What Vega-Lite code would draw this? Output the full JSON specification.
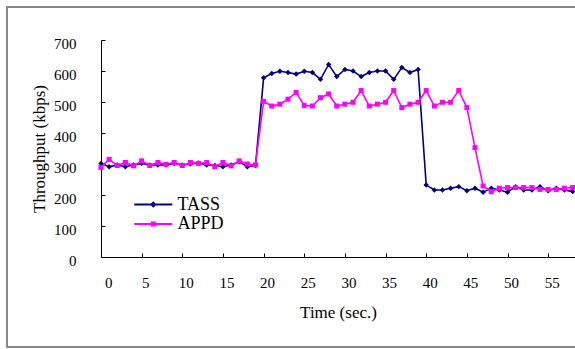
{
  "$schema": "https://vega.github.io/schema/vega-lite/v6.json",
  "width": 474,
  "height": 217,
  "autosize": {"type": "none"},
  "padding": {"left": 101, "top": 40, "right": 0, "bottom": 92},
  "background": "white",
  "config": {
    "view": {"stroke": null},
    "font": "Liberation Serif",
    "axis": {
      "labelFont": "Liberation Serif",
      "titleFont": "Liberation Serif",
      "labelColor": "black",
      "titleColor": "black",
      "domainColor": "black",
      "tickColor": "black",
      "grid": false,
      "labelFontSize": 15,
      "titleFontSize": 17,
      "titleFontWeight": "normal",
      "tickSize": -4,
      "labelOverlap": false
    },
    "legend": {
      "labelFont": "Liberation Serif",
      "labelFontSize": 18,
      "labelColor": "black"
    }
  },
  "layer": [
    {
      "data": {"values": [{}]},
      "mark": {"type": "rect", "fill": null, "stroke": "#888888", "strokeWidth": 2, "clip": false},
      "encoding": {
        "x": {"datum": -11.56, "type": "quantitative", "scale": {"domain": [0, 58.3]},
          "axis": {"values": [0, 5, 10, 15, 20, 25, 30, 35, 40, 45, 50, 55], "title": "Time (sec.)", "labelPadding": 22, "labelOffset": 3.5, "titleBaseline": "middle", "titleY": 55}},
        "x2": {"datum": 62},
        "y": {"datum": 806.5, "type": "quantitative", "scale": {"domain": [0, 700]},
          "axis": {"values": [0, 100, 200, 300, 400, 500, 600, 700], "title": "Throughput (kbps)", "labelPadding": 29, "labelOffset": 3, "titleBaseline": "middle", "titleX": -62, "titleY": 108.5}},
        "y2": {"datum": -290}
      }
    },
    {
      "data": {"name": "tp"},
      "transform": [{"fold": ["TASS", "APPD"], "as": ["series", "value"]}],
      "encoding": {
        "x": {"field": "t", "type": "quantitative", "scale": {"domain": [0, 58.3]},
          "axis": {"values": [0, 5, 10, 15, 20, 25, 30, 35, 40, 45, 50, 55], "title": "Time (sec.)", "labelPadding": 22, "labelOffset": 3.5, "titleBaseline": "middle", "titleY": 55}},
        "y": {"field": "value", "type": "quantitative", "scale": {"domain": [0, 700]},
          "axis": {"values": [0, 100, 200, 300, 400, 500, 600, 700], "title": "Throughput (kbps)", "labelPadding": 29, "labelOffset": 3, "titleBaseline": "middle", "titleX": -62, "titleY": 108.5}}
      },
      "layer": [
        {
          "transform": [{"filter": "datum.series === 'TASS'"}],
          "mark": {"type": "line", "strokeWidth": 1.6, "color": "#000080"}
        },
        {
          "transform": [{"filter": "datum.series === 'APPD'"}],
          "mark": {"type": "line", "strokeWidth": 1.6, "color": "#ff00ff"}
        },
        {
          "transform": [{"filter": "datum.series === 'TASS'"}],
          "mark": {"type": "point", "filled": true, "opacity": 1, "size": 30, "shape": "diamond", "color": "#000080"}
        },
        {
          "transform": [{"filter": "datum.series === 'APPD'"}],
          "mark": {"type": "point", "filled": true, "opacity": 1, "size": 25, "shape": "square", "color": "#ff00ff"}
        },
        {
          "transform": [{"filter": "datum.t < 0"}],
          "mark": {"type": "point", "filled": true, "opacity": 1, "size": 100},
          "encoding": {
            "color": {"field": "series", "type": "nominal",
              "scale": {"domain": ["TASS", "APPD"], "range": ["#000080", "#ff00ff"]},
              "legend": {"title": null, "orient": "none", "legendX": 43.3, "legendY": 155.5, "padding": 0,
                "labelOffset": 15.1, "rowPadding": 1.6, "symbolSize": 100, "symbolOpacity": 1, "symbolStrokeWidth": 0}},
            "shape": {"field": "series", "type": "nominal",
              "scale": {"domain": ["TASS", "APPD"], "range": [
                "M-3.8,-0.2H3.8V0.2H-3.8ZM0,-0.65L0.65,0L0,0.65L-0.65,0Z",
                "M-3.8,-0.2H3.8V0.2H-3.8ZM-0.5,-0.5H0.5V0.5H-0.5Z"]},
              "legend": {"title": null, "orient": "none", "legendX": 43.3, "legendY": 155.5, "padding": 0,
                "labelOffset": 15.1, "rowPadding": 1.6, "symbolSize": 100, "symbolOpacity": 1, "symbolStrokeWidth": 0}}
          }
        }
      ]
    }
  ],
  "datasets": {
    "tp": [
      {"t": 0, "TASS": 302, "APPD": 289}, {"t": 1, "TASS": 291, "APPD": 315}, {"t": 2, "TASS": 297, "APPD": 295},
      {"t": 3, "TASS": 291, "APPD": 305}, {"t": 4, "TASS": 297, "APPD": 294}, {"t": 5, "TASS": 302, "APPD": 310},
      {"t": 6, "TASS": 297, "APPD": 295}, {"t": 7, "TASS": 297, "APPD": 305}, {"t": 8, "TASS": 297, "APPD": 299},
      {"t": 9, "TASS": 302, "APPD": 305}, {"t": 10, "TASS": 297, "APPD": 295}, {"t": 11, "TASS": 300, "APPD": 305},
      {"t": 12, "TASS": 303, "APPD": 302}, {"t": 13, "TASS": 297, "APPD": 305}, {"t": 14, "TASS": 295, "APPD": 291},
      {"t": 15, "TASS": 291, "APPD": 305}, {"t": 16, "TASS": 297, "APPD": 294}, {"t": 17, "TASS": 307, "APPD": 310},
      {"t": 18, "TASS": 291, "APPD": 300}, {"t": 19, "TASS": 295, "APPD": 297}, {"t": 20, "TASS": 578, "APPD": 502},
      {"t": 21, "TASS": 592, "APPD": 487}, {"t": 22, "TASS": 599, "APPD": 493}, {"t": 23, "TASS": 595, "APPD": 509},
      {"t": 24, "TASS": 590, "APPD": 531}, {"t": 25, "TASS": 599, "APPD": 489}, {"t": 26, "TASS": 595, "APPD": 487},
      {"t": 27, "TASS": 573, "APPD": 514}, {"t": 28, "TASS": 621, "APPD": 526}, {"t": 29, "TASS": 582, "APPD": 487},
      {"t": 30, "TASS": 605, "APPD": 493}, {"t": 31, "TASS": 600, "APPD": 499}, {"t": 32, "TASS": 582, "APPD": 537},
      {"t": 33, "TASS": 595, "APPD": 487}, {"t": 34, "TASS": 600, "APPD": 493}, {"t": 35, "TASS": 600, "APPD": 499},
      {"t": 36, "TASS": 573, "APPD": 537}, {"t": 37, "TASS": 611, "APPD": 482}, {"t": 38, "TASS": 595, "APPD": 493},
      {"t": 39, "TASS": 605, "APPD": 499}, {"t": 40, "TASS": 232, "APPD": 537}, {"t": 41, "TASS": 216, "APPD": 487},
      {"t": 42, "TASS": 216, "APPD": 499}, {"t": 43, "TASS": 222, "APPD": 499}, {"t": 44, "TASS": 227, "APPD": 537},
      {"t": 45, "TASS": 214, "APPD": 482}, {"t": 46, "TASS": 222, "APPD": 353}, {"t": 47, "TASS": 209, "APPD": 229},
      {"t": 48, "TASS": 222, "APPD": 211}, {"t": 49, "TASS": 216, "APPD": 222}, {"t": 50, "TASS": 209, "APPD": 224},
      {"t": 51, "TASS": 227, "APPD": 224}, {"t": 52, "TASS": 216, "APPD": 224}, {"t": 53, "TASS": 216, "APPD": 224},
      {"t": 54, "TASS": 227, "APPD": 218}, {"t": 55, "TASS": 214, "APPD": 218}, {"t": 56, "TASS": 222, "APPD": 218},
      {"t": 57, "TASS": 216, "APPD": 222}, {"t": 58, "TASS": 211, "APPD": 224}
    ]
  }
}
